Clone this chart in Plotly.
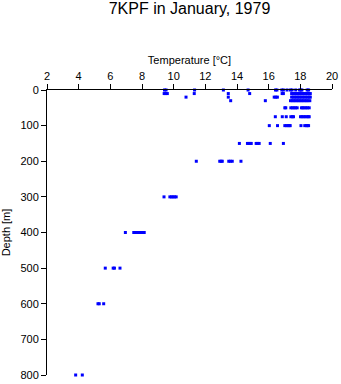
import plotly.graph_objects as go

depths = [0, 10, 20, 30, 50, 75, 100, 150, 200, 300, 400, 500, 600, 800]

t_0 = [9.42, 9.52, 11.32, 13.14, 14.7, 16.43, 16.52, 16.83, 16.93, 17.16, 17.38, 17.48,
       17.71, 17.95, 18.03, 18.1, 18.43, 18.52]
t_10 = [9.4, 9.5, 9.6, 11.3, 13.45, 14.8, 16.85, 16.93, 17.45, 17.55, 17.65, 17.75, 17.85,
        17.95, 18.05, 18.15, 18.25, 18.35, 18.45, 18.55, 18.63]
t_20 = [10.78, 13.45, 16.35, 16.45, 16.55, 17.45, 17.55, 17.65, 17.75, 17.85, 17.95, 18.05,
        18.15, 18.25, 18.35, 18.45, 18.55, 18.63]
t_30 = [13.6, 15.79, 17.38, 17.48, 17.58, 17.68, 17.78, 17.88, 17.98, 18.08, 18.18, 18.28,
        18.38, 18.48, 18.6]
t_50 = [17.02, 17.08, 17.4, 17.5, 17.6, 17.7, 17.8, 18.07, 18.15, 18.25, 18.35, 18.45, 18.56]
t_75 = [16.42, 16.86, 17.11, 17.4, 17.5, 17.57, 18.01, 18.1, 18.2, 18.3, 18.4, 18.5, 18.56]
t_100 = [16.04, 16.56, 17.02, 17.12, 17.22, 17.3, 17.36, 18.04, 18.28, 18.38, 18.45, 18.52]
t_150 = [14.15, 14.66, 14.75, 14.83, 14.9, 15.21, 15.3, 15.4, 16.1, 16.93]
t_200 = [11.43, 12.91, 13.0, 13.07, 13.48, 13.58, 13.7, 14.25]
t_300 = [9.39, 9.76, 9.86, 9.96, 10.06, 10.16]
t_400 = [6.95, 7.48, 7.6, 7.72, 7.85, 7.98, 8.14]
t_500 = [5.68, 6.18, 6.26, 6.61]
t_600 = [5.22, 5.3, 5.58]
t_800 = [3.81, 4.23]

temps_by_depth = [t_0, t_10, t_20, t_30, t_50, t_75, t_100, t_150, t_200, t_300,
                  t_400, t_500, t_600, t_800]

xs, ys = [], []
for d, ts in zip(depths, temps_by_depth):
    for t in ts:
        xs.append(t)
        ys.append(d)

FONT = "Liberation Sans, Arial, sans-serif"

fig = go.Figure(go.Scatter(
    x=xs, y=ys, mode="markers",
    marker=dict(symbol="square", size=3, color="#0000ff", line=dict(width=0)),
    cliponaxis=False, showlegend=False,
))

fig.update_layout(
    width=341, height=384,
    margin=dict(l=47, r=9, t=90, b=9, autoexpand=False),
    paper_bgcolor="white", plot_bgcolor="white",
    font=dict(family=FONT, size=11, color="black"),
    title=dict(text="7KPF in January, 1979", x=(47 + 332) / 2 / 341, xanchor="center",
               y=1 - 3 / 384, yanchor="top", yref="container",
               font=dict(size=16, family=FONT, color="black")),
    xaxis=dict(side="top", range=[2, 20], tickmode="array",
               tickvals=[2, 4, 6, 8, 10, 12, 14, 16, 18, 20],
               ticks="outside", ticklen=5, tickcolor="black", tickwidth=1,
               showline=True, linecolor="black", linewidth=1,
               showgrid=False, zeroline=False, automargin=False,
               title=dict(text="Temperature [°C]", font=dict(size=11), standoff=2),
               tickfont=dict(size=11)),
    yaxis=dict(range=[800, 0], tickmode="array",
               tickvals=[0, 100, 200, 300, 400, 500, 600, 700, 800],
               ticks="outside", ticklen=5, tickcolor="black", tickwidth=1,
               showline=True, linecolor="black", linewidth=1,
               showgrid=False, zeroline=False, automargin=False,
               title=dict(text="Depth [m]", font=dict(size=11), standoff=7),
               tickfont=dict(size=11)),
)

fig.write_html("out.html")
